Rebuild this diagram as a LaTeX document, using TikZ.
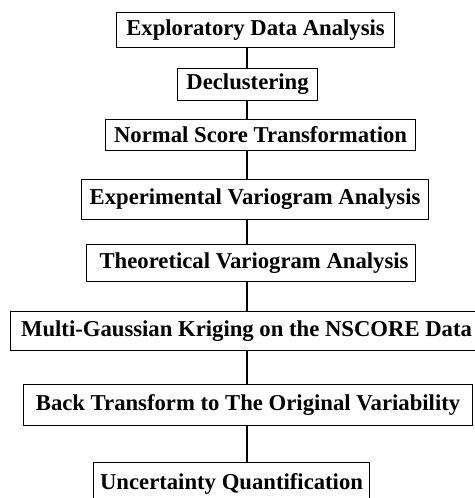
\documentclass[tikz,border=0pt]{standalone}
\usepackage{fontspec}
\setmainfont{Liberation Serif}
\usetikzlibrary{positioning}
\tikzset{
  stage/.style={draw, line width=1.1pt, anchor=north west, inner sep=0pt, font=\fontsize{22.7}{26}\selectfont\bfseries},
  link/.style={line width=1.1pt},
}

\begin{document}
\begin{tikzpicture}[x=1pt,y=-1pt]
\useasboundingbox (0,0) rectangle (474,498);
\node[stage, minimum width=278pt, minimum height=35pt] (eda) at (116,12) {Exploratory Data Analysis};
\node[stage, minimum width=140pt, minimum height=32pt] (declus) at (177,68) {Declustering};
\node[stage, minimum width=310pt, minimum height=31pt] (nscore) at (105,119) {Normal Score Transformation};
\node[stage, minimum width=347pt, minimum height=40pt] (expvar) at (81,179) {Experimental Variogram Analysis};
\node[stage, minimum width=329pt, minimum height=37pt] (theovar) at (86,244) {\hspace{6pt}Theoretical Variogram Analysis};
\node[stage, minimum width=472pt, minimum height=39pt] (kriging) at (10,311) {Multi-Gaussian Kriging on the NSCORE Data};
\node[stage, minimum width=449pt, minimum height=41pt] (backtr) at (23,384) {Back Transform to The Original Variability};
\node[stage, minimum width=276pt, minimum height=43pt] (uncert) at (93,462) {Uncertainty Quantification};
% vertical spine
\coordinate (spine) at (247,0);
\draw[link] (eda.south -| spine) -- (declus.north -| spine);
\draw[link] (declus.south -| spine) -- (nscore.north -| spine);
\draw[link] (nscore.south -| spine) -- (expvar.north -| spine);
\draw[link] (expvar.south -| spine) -- (theovar.north -| spine);
\draw[link] (theovar.south -| spine) -- (kriging.north -| spine);
\draw[link] (kriging.south -| spine) -- (backtr.north -| spine);
\draw[link] (backtr.south -| spine) -- (uncert.north -| spine);
\end{tikzpicture}
\end{document}
